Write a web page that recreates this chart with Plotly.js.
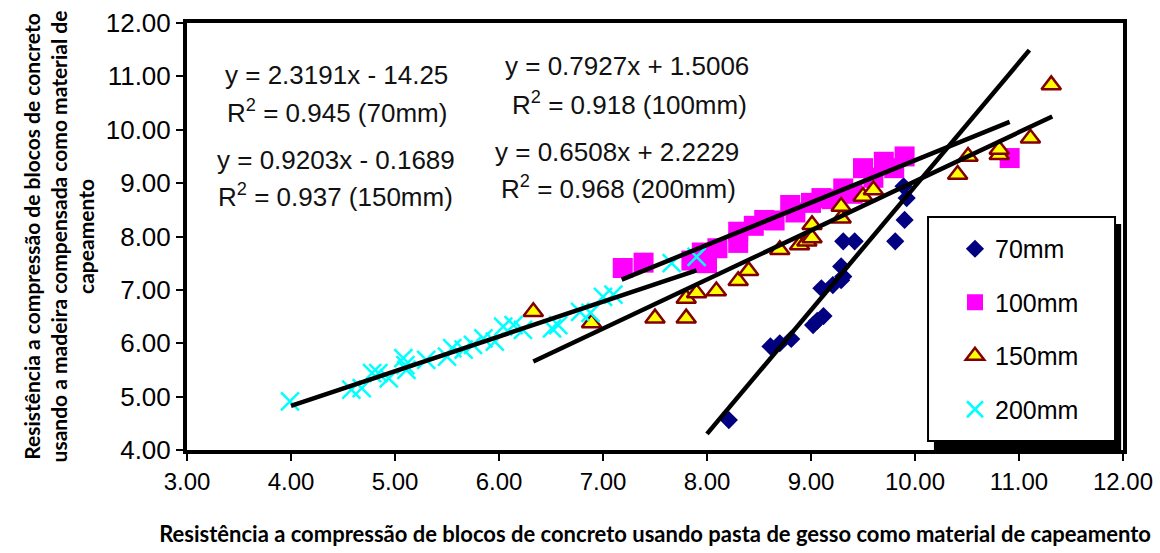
<!DOCTYPE html>
<html><head><meta charset="utf-8">
<script src="https://cdn.plot.ly/plotly-3.0.1.min.js"></script>
<style>html,body{margin:0;padding:0;background:#fff;}#chart{width:1160px;height:553px;}</style>
</head><body><div id="chart"></div>
<script>
// Series names
const seriesNames = ['70mm', '100mm', '150mm', '200mm'];

// 70mm (diamonds)
const x70 = [8.21, 8.61, 8.70, 8.81, 9.02, 9.06, 9.12, 9.10, 9.21, 9.29, 9.31, 9.29, 9.31, 9.42, 9.81, 9.90, 9.92, 9.89];
const y70 = [4.56, 5.94, 6.00, 6.08, 6.34, 6.42, 6.51, 7.03, 7.09, 7.18, 7.25, 7.44, 7.91, 7.91, 7.91, 8.31, 8.72, 8.94];

// 100mm (squares)
const x100 = [7.19, 7.39, 7.85, 7.95, 8.00, 8.10, 8.30, 8.30, 8.45, 8.55, 8.65, 8.80, 8.85, 9.00, 9.10, 9.20, 9.31, 9.40, 9.50, 9.60, 9.70, 9.80, 9.90, 10.91];
const y100 = [7.41, 7.51, 7.55, 7.70, 7.50, 7.78, 7.88, 8.09, 8.20, 8.31, 8.30, 8.59, 8.45, 8.63, 8.72, 8.70, 8.90, 8.80, 9.28, 9.10, 9.40, 9.28, 9.50, 9.47];

// 150mm (triangles)
const x150 = [6.33, 6.89, 7.50, 7.80, 7.80, 7.90, 8.09, 8.30, 8.40, 8.70, 8.89, 8.96, 9.01, 9.01, 9.29, 9.29, 9.50, 9.60, 10.41, 10.51, 10.81, 10.81, 11.11, 11.31];
const y150 = [6.59, 6.38, 6.47, 6.47, 6.84, 6.94, 6.98, 7.17, 7.36, 7.75, 7.84, 7.91, 7.97, 8.22, 8.34, 8.56, 8.75, 8.87, 9.16, 9.50, 9.53, 9.63, 9.84, 10.84];

// 200mm (crosses)
const x200 = [3.99, 4.58, 4.68, 4.78, 4.84, 4.94, 5.08, 5.10, 5.11, 5.30, 5.50, 5.55, 5.66, 5.75, 5.85, 5.96, 6.04, 6.14, 6.23, 6.51, 6.57, 6.78, 6.88, 7.00, 7.10, 7.66, 7.90];
const y200 = [4.91, 5.13, 5.16, 5.44, 5.44, 5.34, 5.72, 5.59, 5.50, 5.69, 5.75, 5.91, 5.88, 5.97, 6.09, 6.03, 6.31, 6.34, 6.25, 6.28, 6.34, 6.59, 6.57, 6.87, 6.91, 7.50, 7.62];

// Linear trendlines (slope, intercept, drawn x-range), order: 70, 100, 150, 200
const fitSlope = [2.3191, 0.7927, 0.9203, 0.6508];
const fitIntercept = [-14.25, 1.5006, -0.1689, 2.2229];
const fitStart = [8.0, 7.18, 6.33, 4.0];
const fitEnd = [11.1, 10.91, 11.32, 7.9];

// Equation labels
const eqLabels = ['y = 2.3191x - 14.25', 'R<sup>2</sup> = 0.945 (70mm)',
                  'y = 0.9203x - 0.1689', 'R<sup>2</sup> = 0.937 (150mm)',
                  'y = 0.7927x + 1.5006', 'R<sup>2</sup> = 0.918 (100mm)',
                  'y = 0.6508x + 2.2229', 'R<sup>2</sup> = 0.968 (200mm)'];

// Axis tick values
const tickVals = [3, 4, 5, 6, 7, 8, 9, 10, 11, 12];
const yTickVals = [4, 5, 6, 7, 8, 9, 10, 11, 12];

const xTitle = 'Resistência a compressão de blocos de concreto usando pasta de gesso como material de capeamento';
const yTitle = 'Resistência a compressão de blocos de concreto<br>usando a madeira compensada como material de<br>capeamento';

const traces = [
  {type:'scatter', mode:'markers', name:seriesNames[0], x:x70, y:y70, legendgroup:'g1',
   marker:{symbol:'diamond', size:14, color:'#000080'}},
  {type:'scatter', mode:'markers', name:seriesNames[1], x:x100, y:y100, legendgroup:'g2',
   marker:{symbol:'square', size:20, color:'#FF00FF'}},
  {type:'scatter', mode:'markers', name:seriesNames[2], x:x150, y:y150, legendgroup:'g3',
   marker:{symbol:'triangle-up', size:17, color:'#FFFF00', line:{color:'#800000', width:2.5}}},
  {type:'scatter', mode:'markers', name:seriesNames[3], x:x200, y:y200, legendgroup:'g4',
   marker:{symbol:'x-thin', size:18, color:'#00FFFF', line:{color:'#00FFFF', width:2.5}}}
];

for (let i = 0; i < fitSlope.length; i++) {
  const xs = [fitStart[i], fitEnd[i]];
  traces.push({type:'scatter', mode:'lines', x:xs, y:xs.map(v => fitSlope[i]*v + fitIntercept[i]),
    line:{color:'#000000', width:4.5}, showlegend:false, hoverinfo:'skip'});
}

const annPos = [[4.44, 11.03], [4.44, 10.35], [4.43, 9.43], [4.43, 8.76],
                [7.23, 11.19], [7.25, 10.50], [7.13, 9.58], [7.15, 8.91]];
const annotations = eqLabels.map((t, i) => ({
  text:t, x:annPos[i][0], y:annPos[i][1], xref:'x', yref:'y', showarrow:false,
  xanchor:'center', yanchor:'middle',
  font:{family:'Liberation Sans, Arial, sans-serif', size:26, color:'#111111'}
}));

const layout = {
  width:1160, height:553,
  margin:{l:187, r:37, t:23, b:103},
  paper_bgcolor:'#ffffff', plot_bgcolor:'#ffffff',
  showlegend:true,
  legend:{x:0.8205, y:0.5246, xanchor:'left', yanchor:'top', bgcolor:'rgba(0,0,0,0)',
    borderwidth:0, traceorder:'grouped', tracegroupgap:18,
    font:{family:'Liberation Sans, Arial, sans-serif', size:25, color:'#000000'}},
  xaxis:{range:[3, 12], tickvals:tickVals, tickformat:'.2f', showgrid:false, zeroline:false,
    showline:true, mirror:true, linecolor:'#000000', linewidth:4,
    ticks:'outside', ticklen:7, tickwidth:2, tickcolor:'#000000',
    tickfont:{family:'Liberation Sans, Arial, sans-serif', size:24, color:'#000000'},
    title:{text:xTitle, standoff:34, font:{family:'Lato, sans-serif', size:22, color:'#000000', weight:'bold'}}},
  yaxis:{range:[4, 12], tickvals:yTickVals, tickformat:'.2f', showgrid:false, zeroline:false,
    showline:true, mirror:true, linecolor:'#000000', linewidth:4,
    ticks:'outside', ticklen:7, tickwidth:2, tickcolor:'#000000',
    tickfont:{family:'Liberation Sans, Arial, sans-serif', size:26, color:'#000000'},
    title:{text:yTitle, standoff:6, font:{family:'Lato, sans-serif', size:21, color:'#000000', weight:'bold'}}},
  shapes:[
    {type:'rect', xref:'paper', yref:'paper', x0:0.798, x1:0.998, y0:0, y1:0.529,
     fillcolor:'#000000', line:{width:0}, layer:'above'},
    {type:'rect', xref:'paper', yref:'paper', x0:0.7917, x1:0.9915, y0:0.0211, y1:0.5457,
     fillcolor:'#ffffff', line:{color:'#000000', width:2}, layer:'above'}
  ],
  annotations:annotations
};

Plotly.newPlot('chart', traces, layout, {displayModeBar:false, responsive:false});
</script>
</body></html>
